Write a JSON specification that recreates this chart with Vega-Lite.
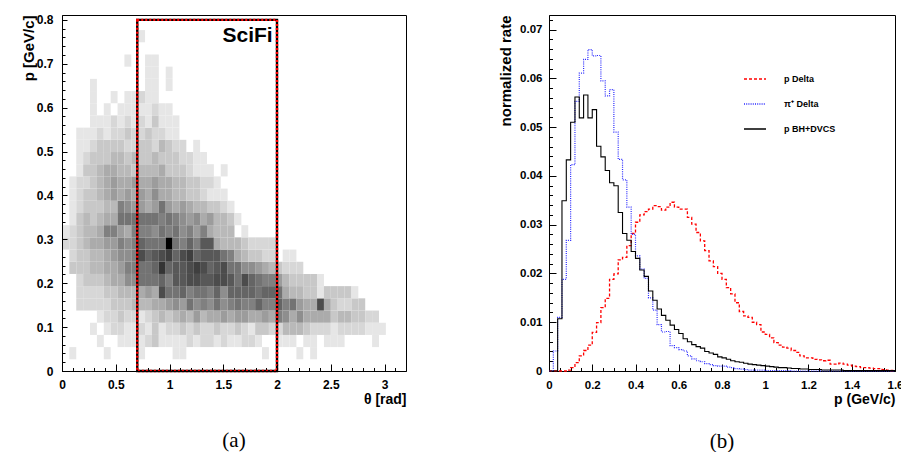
{
"$schema":"https://vega.github.io/schema/vega-lite/v6.json",
"background":"white",
"padding":{"left":20,"top":13,"right":0,"bottom":0},
"spacing":91,
"config":{
 "font":"Liberation Sans",
 "view":{"stroke":"#000","strokeWidth":1},
 "axis":{"grid":false,"labelFlush":false,"labelOverlap":false,"domainColor":"#000","tickColor":"#000","labelFont":"Liberation Sans","labelFontWeight":"bold","labelColor":"#000","titleFont":"Liberation Sans","titleFontWeight":"bold","titleColor":"#000","format":"~g"},
 "title":{"font":"Liberation Serif","fontWeight":"normal","fontSize":21,"color":"#000"}
},
"hconcat":[
 {
  "width":344,"height":356,
  "title":{"text":"(a)","orient":"bottom","anchor":"middle","offset":24},
  "resolve":{"axis":{"x":"independent","y":"independent"}},
  "layer":[
   {
    "data":{"values":[
{"t":0.064,"p":0.0278,"c":1},{"t":0.384,"p":0.0278,"c":1},{"t":0.704,"p":0.0278,"c":1},{"t":1.024,"p":0.0278,"c":1},{"t":1.088,"p":0.0278,"c":1},{"t":1.856,"p":0.0278,"c":1},{"t":2.176,"p":0.0278,"c":1},{"t":2.304,"p":0.0278,"c":1},
{"t":0.32,"p":0.0556,"c":1},{"t":0.512,"p":0.0556,"c":1},{"t":0.576,"p":0.0556,"c":1},{"t":0.64,"p":0.0556,"c":1},{"t":0.704,"p":0.0556,"c":1},{"t":0.768,"p":0.0556,"c":2},{"t":0.832,"p":0.0556,"c":3},{"t":0.896,"p":0.0556,"c":1},{"t":0.96,"p":0.0556,"c":1},{"t":1.024,"p":0.0556,"c":1},{"t":1.088,"p":0.0556,"c":1},{"t":1.152,"p":0.0556,"c":2},{"t":1.216,"p":0.0556,"c":1},{"t":1.28,"p":0.0556,"c":2},{"t":1.344,"p":0.0556,"c":2},{"t":1.408,"p":0.0556,"c":1},{"t":1.472,"p":0.0556,"c":2},{"t":1.536,"p":0.0556,"c":1},{"t":1.6,"p":0.0556,"c":1},{"t":1.664,"p":0.0556,"c":2},{"t":1.728,"p":0.0556,"c":2},{"t":1.792,"p":0.0556,"c":1},{"t":1.984,"p":0.0556,"c":1},{"t":2.048,"p":0.0556,"c":1},{"t":2.112,"p":0.0556,"c":1},{"t":2.24,"p":0.0556,"c":1},{"t":2.304,"p":0.0556,"c":1},{"t":2.432,"p":0.0556,"c":1},{"t":2.496,"p":0.0556,"c":1},{"t":2.56,"p":0.0556,"c":1},{"t":2.88,"p":0.0556,"c":1},
{"t":0.256,"p":0.0833,"c":1},{"t":0.384,"p":0.0833,"c":1},{"t":0.448,"p":0.0833,"c":2},{"t":0.512,"p":0.0833,"c":2},{"t":0.576,"p":0.0833,"c":1},{"t":0.64,"p":0.0833,"c":1},{"t":0.704,"p":0.0833,"c":2},{"t":0.768,"p":0.0833,"c":1},{"t":0.832,"p":0.0833,"c":3},{"t":0.896,"p":0.0833,"c":1},{"t":0.96,"p":0.0833,"c":2},{"t":1.024,"p":0.0833,"c":2},{"t":1.088,"p":0.0833,"c":3},{"t":1.152,"p":0.0833,"c":2},{"t":1.216,"p":0.0833,"c":3},{"t":1.28,"p":0.0833,"c":2},{"t":1.344,"p":0.0833,"c":2},{"t":1.408,"p":0.0833,"c":3},{"t":1.472,"p":0.0833,"c":2},{"t":1.536,"p":0.0833,"c":2},{"t":1.6,"p":0.0833,"c":3},{"t":1.664,"p":0.0833,"c":2},{"t":1.728,"p":0.0833,"c":1},{"t":1.792,"p":0.0833,"c":3},{"t":1.856,"p":0.0833,"c":3},{"t":1.92,"p":0.0833,"c":2},{"t":1.984,"p":0.0833,"c":2},{"t":2.048,"p":0.0833,"c":4},{"t":2.112,"p":0.0833,"c":4},{"t":2.176,"p":0.0833,"c":4},{"t":2.24,"p":0.0833,"c":3},{"t":2.304,"p":0.0833,"c":2},{"t":2.368,"p":0.0833,"c":2},{"t":2.432,"p":0.0833,"c":2},{"t":2.496,"p":0.0833,"c":1},{"t":2.56,"p":0.0833,"c":2},{"t":2.624,"p":0.0833,"c":2},{"t":2.688,"p":0.0833,"c":2},{"t":2.752,"p":0.0833,"c":2},{"t":2.816,"p":0.0833,"c":1},{"t":2.88,"p":0.0833,"c":1},{"t":2.944,"p":0.0833,"c":1},
{"t":0.32,"p":0.1111,"c":1},{"t":0.384,"p":0.1111,"c":2},{"t":0.448,"p":0.1111,"c":2},{"t":0.512,"p":0.1111,"c":3},{"t":0.576,"p":0.1111,"c":2},{"t":0.64,"p":0.1111,"c":2},{"t":0.704,"p":0.1111,"c":1},{"t":0.768,"p":0.1111,"c":2},{"t":0.832,"p":0.1111,"c":3},{"t":0.896,"p":0.1111,"c":4},{"t":0.96,"p":0.1111,"c":3},{"t":1.024,"p":0.1111,"c":4},{"t":1.088,"p":0.1111,"c":5},{"t":1.152,"p":0.1111,"c":4},{"t":1.216,"p":0.1111,"c":6},{"t":1.28,"p":0.1111,"c":4},{"t":1.344,"p":0.1111,"c":5},{"t":1.408,"p":0.1111,"c":5},{"t":1.472,"p":0.1111,"c":6},{"t":1.536,"p":0.1111,"c":5},{"t":1.6,"p":0.1111,"c":6},{"t":1.664,"p":0.1111,"c":6},{"t":1.728,"p":0.1111,"c":5},{"t":1.792,"p":0.1111,"c":5},{"t":1.856,"p":0.1111,"c":6},{"t":1.92,"p":0.1111,"c":5},{"t":1.984,"p":0.1111,"c":8},{"t":2.048,"p":0.1111,"c":7},{"t":2.112,"p":0.1111,"c":5},{"t":2.176,"p":0.1111,"c":7},{"t":2.24,"p":0.1111,"c":5},{"t":2.304,"p":0.1111,"c":5},{"t":2.368,"p":0.1111,"c":5},{"t":2.432,"p":0.1111,"c":5},{"t":2.496,"p":0.1111,"c":3},{"t":2.56,"p":0.1111,"c":4},{"t":2.624,"p":0.1111,"c":4},{"t":2.688,"p":0.1111,"c":3},{"t":2.752,"p":0.1111,"c":3},{"t":2.816,"p":0.1111,"c":2},{"t":2.88,"p":0.1111,"c":2},
{"t":0.128,"p":0.1389,"c":2},{"t":0.192,"p":0.1389,"c":2},{"t":0.256,"p":0.1389,"c":2},{"t":0.32,"p":0.1389,"c":2},{"t":0.384,"p":0.1389,"c":2},{"t":0.448,"p":0.1389,"c":3},{"t":0.512,"p":0.1389,"c":3},{"t":0.576,"p":0.1389,"c":3},{"t":0.64,"p":0.1389,"c":4},{"t":0.704,"p":0.1389,"c":4},{"t":0.768,"p":0.1389,"c":4},{"t":0.832,"p":0.1389,"c":5},{"t":0.896,"p":0.1389,"c":5},{"t":0.96,"p":0.1389,"c":6},{"t":1.024,"p":0.1389,"c":7},{"t":1.088,"p":0.1389,"c":6},{"t":1.152,"p":0.1389,"c":9},{"t":1.216,"p":0.1389,"c":7},{"t":1.28,"p":0.1389,"c":8},{"t":1.344,"p":0.1389,"c":7},{"t":1.408,"p":0.1389,"c":9},{"t":1.472,"p":0.1389,"c":7},{"t":1.536,"p":0.1389,"c":8},{"t":1.6,"p":0.1389,"c":9},{"t":1.664,"p":0.1389,"c":8},{"t":1.728,"p":0.1389,"c":8},{"t":1.792,"p":0.1389,"c":10},{"t":1.856,"p":0.1389,"c":8},{"t":1.92,"p":0.1389,"c":8},{"t":1.984,"p":0.1389,"c":10},{"t":2.048,"p":0.1389,"c":8},{"t":2.112,"p":0.1389,"c":9},{"t":2.176,"p":0.1389,"c":6},{"t":2.24,"p":0.1389,"c":5},{"t":2.304,"p":0.1389,"c":5},{"t":2.368,"p":0.1389,"c":12},{"t":2.432,"p":0.1389,"c":5},{"t":2.496,"p":0.1389,"c":3},{"t":2.56,"p":0.1389,"c":2},{"t":2.624,"p":0.1389,"c":2},{"t":2.688,"p":0.1389,"c":3},{"t":2.752,"p":0.1389,"c":3},
{"t":0.128,"p":0.1667,"c":2},{"t":0.192,"p":0.1667,"c":2},{"t":0.256,"p":0.1667,"c":2},{"t":0.32,"p":0.1667,"c":2},{"t":0.384,"p":0.1667,"c":3},{"t":0.448,"p":0.1667,"c":3},{"t":0.512,"p":0.1667,"c":4},{"t":0.576,"p":0.1667,"c":4},{"t":0.64,"p":0.1667,"c":4},{"t":0.704,"p":0.1667,"c":5},{"t":0.768,"p":0.1667,"c":6},{"t":0.832,"p":0.1667,"c":5},{"t":0.896,"p":0.1667,"c":12},{"t":0.96,"p":0.1667,"c":9},{"t":1.024,"p":0.1667,"c":9},{"t":1.088,"p":0.1667,"c":10},{"t":1.152,"p":0.1667,"c":8},{"t":1.216,"p":0.1667,"c":9},{"t":1.28,"p":0.1667,"c":9},{"t":1.344,"p":0.1667,"c":8},{"t":1.408,"p":0.1667,"c":10},{"t":1.472,"p":0.1667,"c":7},{"t":1.536,"p":0.1667,"c":10},{"t":1.6,"p":0.1667,"c":10},{"t":1.664,"p":0.1667,"c":10},{"t":1.728,"p":0.1667,"c":10},{"t":1.792,"p":0.1667,"c":9},{"t":1.856,"p":0.1667,"c":10},{"t":1.92,"p":0.1667,"c":10},{"t":1.984,"p":0.1667,"c":9},{"t":2.048,"p":0.1667,"c":5},{"t":2.112,"p":0.1667,"c":4},{"t":2.176,"p":0.1667,"c":4},{"t":2.24,"p":0.1667,"c":3},{"t":2.304,"p":0.1667,"c":3},{"t":2.368,"p":0.1667,"c":1},{"t":2.432,"p":0.1667,"c":3},{"t":2.496,"p":0.1667,"c":3},{"t":2.56,"p":0.1667,"c":3},{"t":2.624,"p":0.1667,"c":3},{"t":2.688,"p":0.1667,"c":1},
{"t":0.128,"p":0.1944,"c":2},{"t":0.192,"p":0.1944,"c":3},{"t":0.256,"p":0.1944,"c":3},{"t":0.32,"p":0.1944,"c":3},{"t":0.384,"p":0.1944,"c":4},{"t":0.448,"p":0.1944,"c":5},{"t":0.512,"p":0.1944,"c":5},{"t":0.576,"p":0.1944,"c":7},{"t":0.64,"p":0.1944,"c":7},{"t":0.704,"p":0.1944,"c":9},{"t":0.768,"p":0.1944,"c":9},{"t":0.832,"p":0.1944,"c":9},{"t":0.896,"p":0.1944,"c":10},{"t":0.96,"p":0.1944,"c":8},{"t":1.024,"p":0.1944,"c":11},{"t":1.088,"p":0.1944,"c":11},{"t":1.152,"p":0.1944,"c":12},{"t":1.216,"p":0.1944,"c":12},{"t":1.28,"p":0.1944,"c":11},{"t":1.344,"p":0.1944,"c":11},{"t":1.408,"p":0.1944,"c":12},{"t":1.472,"p":0.1944,"c":12},{"t":1.536,"p":0.1944,"c":11},{"t":1.6,"p":0.1944,"c":9},{"t":1.664,"p":0.1944,"c":12},{"t":1.728,"p":0.1944,"c":10},{"t":1.792,"p":0.1944,"c":9},{"t":1.856,"p":0.1944,"c":8},{"t":1.92,"p":0.1944,"c":8},{"t":1.984,"p":0.1944,"c":6},{"t":2.048,"p":0.1944,"c":4},{"t":2.112,"p":0.1944,"c":3},{"t":2.176,"p":0.1944,"c":3},{"t":2.24,"p":0.1944,"c":3},{"t":2.304,"p":0.1944,"c":3},{"t":2.368,"p":0.1944,"c":1},
{"t":0.064,"p":0.2222,"c":3},{"t":0.128,"p":0.2222,"c":3},{"t":0.192,"p":0.2222,"c":3},{"t":0.256,"p":0.2222,"c":4},{"t":0.32,"p":0.2222,"c":4},{"t":0.384,"p":0.2222,"c":5},{"t":0.448,"p":0.2222,"c":5},{"t":0.512,"p":0.2222,"c":6},{"t":0.576,"p":0.2222,"c":8},{"t":0.64,"p":0.2222,"c":8},{"t":0.704,"p":0.2222,"c":9},{"t":0.768,"p":0.2222,"c":9},{"t":0.832,"p":0.2222,"c":10},{"t":0.896,"p":0.2222,"c":14},{"t":0.96,"p":0.2222,"c":10},{"t":1.024,"p":0.2222,"c":11},{"t":1.088,"p":0.2222,"c":11},{"t":1.152,"p":0.2222,"c":12},{"t":1.216,"p":0.2222,"c":13},{"t":1.28,"p":0.2222,"c":12},{"t":1.344,"p":0.2222,"c":10},{"t":1.408,"p":0.2222,"c":11},{"t":1.472,"p":0.2222,"c":12},{"t":1.536,"p":0.2222,"c":9},{"t":1.6,"p":0.2222,"c":9},{"t":1.664,"p":0.2222,"c":7},{"t":1.728,"p":0.2222,"c":7},{"t":1.792,"p":0.2222,"c":6},{"t":1.856,"p":0.2222,"c":5},{"t":1.92,"p":0.2222,"c":4},{"t":1.984,"p":0.2222,"c":3},{"t":2.048,"p":0.2222,"c":2},{"t":2.112,"p":0.2222,"c":2},{"t":2.176,"p":0.2222,"c":2},
{"t":0.064,"p":0.25,"c":2},{"t":0.128,"p":0.25,"c":3},{"t":0.192,"p":0.25,"c":3},{"t":0.256,"p":0.25,"c":4},{"t":0.32,"p":0.25,"c":4},{"t":0.384,"p":0.25,"c":5},{"t":0.448,"p":0.25,"c":6},{"t":0.512,"p":0.25,"c":7},{"t":0.576,"p":0.25,"c":7},{"t":0.64,"p":0.25,"c":8},{"t":0.704,"p":0.25,"c":12},{"t":0.768,"p":0.25,"c":10},{"t":0.832,"p":0.25,"c":11},{"t":0.896,"p":0.25,"c":12},{"t":0.96,"p":0.25,"c":13},{"t":1.024,"p":0.25,"c":10},{"t":1.088,"p":0.25,"c":12},{"t":1.152,"p":0.25,"c":13},{"t":1.216,"p":0.25,"c":10},{"t":1.28,"p":0.25,"c":11},{"t":1.344,"p":0.25,"c":11},{"t":1.408,"p":0.25,"c":11},{"t":1.472,"p":0.25,"c":9},{"t":1.536,"p":0.25,"c":8},{"t":1.6,"p":0.25,"c":5},{"t":1.664,"p":0.25,"c":4},{"t":1.728,"p":0.25,"c":3},{"t":1.792,"p":0.25,"c":3},{"t":1.856,"p":0.25,"c":2},{"t":1.92,"p":0.25,"c":2},{"t":2.048,"p":0.25,"c":1},{"t":2.112,"p":0.25,"c":1},
{"t":0,"p":0.2778,"c":2},{"t":0.064,"p":0.2778,"c":2},{"t":0.128,"p":0.2778,"c":3},{"t":0.192,"p":0.2778,"c":4},{"t":0.256,"p":0.2778,"c":5},{"t":0.32,"p":0.2778,"c":5},{"t":0.384,"p":0.2778,"c":6},{"t":0.448,"p":0.2778,"c":6},{"t":0.512,"p":0.2778,"c":8},{"t":0.576,"p":0.2778,"c":7},{"t":0.64,"p":0.2778,"c":8},{"t":0.704,"p":0.2778,"c":10},{"t":0.768,"p":0.2778,"c":9},{"t":0.832,"p":0.2778,"c":9},{"t":0.896,"p":0.2778,"c":9},{"t":0.96,"p":0.2778,"c":18},{"t":1.024,"p":0.2778,"c":9},{"t":1.088,"p":0.2778,"c":8},{"t":1.152,"p":0.2778,"c":10},{"t":1.216,"p":0.2778,"c":8},{"t":1.28,"p":0.2778,"c":11},{"t":1.344,"p":0.2778,"c":11},{"t":1.408,"p":0.2778,"c":5},{"t":1.472,"p":0.2778,"c":4},{"t":1.536,"p":0.2778,"c":4},{"t":1.6,"p":0.2778,"c":4},{"t":1.664,"p":0.2778,"c":3},{"t":1.728,"p":0.2778,"c":2},{"t":1.792,"p":0.2778,"c":2},{"t":1.856,"p":0.2778,"c":2},{"t":1.92,"p":0.2778,"c":2},
{"t":0,"p":0.3056,"c":1},{"t":0.064,"p":0.3056,"c":2},{"t":0.128,"p":0.3056,"c":3},{"t":0.192,"p":0.3056,"c":4},{"t":0.256,"p":0.3056,"c":4},{"t":0.32,"p":0.3056,"c":5},{"t":0.384,"p":0.3056,"c":8},{"t":0.448,"p":0.3056,"c":8},{"t":0.512,"p":0.3056,"c":6},{"t":0.576,"p":0.3056,"c":5},{"t":0.64,"p":0.3056,"c":8},{"t":0.704,"p":0.3056,"c":8},{"t":0.768,"p":0.3056,"c":8},{"t":0.832,"p":0.3056,"c":7},{"t":0.896,"p":0.3056,"c":9},{"t":0.96,"p":0.3056,"c":8},{"t":1.024,"p":0.3056,"c":9},{"t":1.088,"p":0.3056,"c":7},{"t":1.152,"p":0.3056,"c":8},{"t":1.216,"p":0.3056,"c":6},{"t":1.28,"p":0.3056,"c":8},{"t":1.344,"p":0.3056,"c":5},{"t":1.408,"p":0.3056,"c":4},{"t":1.472,"p":0.3056,"c":4},{"t":1.536,"p":0.3056,"c":4},{"t":1.664,"p":0.3056,"c":1},
{"t":0.064,"p":0.3333,"c":1},{"t":0.128,"p":0.3333,"c":3},{"t":0.192,"p":0.3333,"c":4},{"t":0.256,"p":0.3333,"c":3},{"t":0.32,"p":0.3333,"c":4},{"t":0.384,"p":0.3333,"c":5},{"t":0.448,"p":0.3333,"c":5},{"t":0.512,"p":0.3333,"c":9},{"t":0.576,"p":0.3333,"c":9},{"t":0.64,"p":0.3333,"c":9},{"t":0.704,"p":0.3333,"c":9},{"t":0.768,"p":0.3333,"c":9},{"t":0.832,"p":0.3333,"c":9},{"t":0.896,"p":0.3333,"c":8},{"t":0.96,"p":0.3333,"c":9},{"t":1.024,"p":0.3333,"c":8},{"t":1.088,"p":0.3333,"c":7},{"t":1.152,"p":0.3333,"c":6},{"t":1.216,"p":0.3333,"c":7},{"t":1.28,"p":0.3333,"c":5},{"t":1.344,"p":0.3333,"c":6},{"t":1.408,"p":0.3333,"c":4},{"t":1.472,"p":0.3333,"c":4},{"t":1.536,"p":0.3333,"c":3},{"t":1.6,"p":0.3333,"c":1},
{"t":0.064,"p":0.3611,"c":1},{"t":0.128,"p":0.3611,"c":2},{"t":0.192,"p":0.3611,"c":3},{"t":0.256,"p":0.3611,"c":3},{"t":0.32,"p":0.3611,"c":3},{"t":0.384,"p":0.3611,"c":4},{"t":0.448,"p":0.3611,"c":4},{"t":0.512,"p":0.3611,"c":8},{"t":0.576,"p":0.3611,"c":7},{"t":0.64,"p":0.3611,"c":6},{"t":0.704,"p":0.3611,"c":6},{"t":0.768,"p":0.3611,"c":5},{"t":0.832,"p":0.3611,"c":6},{"t":0.896,"p":0.3611,"c":9},{"t":0.96,"p":0.3611,"c":6},{"t":1.024,"p":0.3611,"c":5},{"t":1.088,"p":0.3611,"c":6},{"t":1.152,"p":0.3611,"c":5},{"t":1.216,"p":0.3611,"c":4},{"t":1.28,"p":0.3611,"c":4},{"t":1.344,"p":0.3611,"c":3},{"t":1.408,"p":0.3611,"c":3},{"t":1.472,"p":0.3611,"c":2},{"t":1.536,"p":0.3611,"c":1},
{"t":0.064,"p":0.3889,"c":1},{"t":0.128,"p":0.3889,"c":2},{"t":0.192,"p":0.3889,"c":3},{"t":0.256,"p":0.3889,"c":3},{"t":0.32,"p":0.3889,"c":4},{"t":0.384,"p":0.3889,"c":5},{"t":0.448,"p":0.3889,"c":6},{"t":0.512,"p":0.3889,"c":5},{"t":0.576,"p":0.3889,"c":6},{"t":0.64,"p":0.3889,"c":5},{"t":0.704,"p":0.3889,"c":6},{"t":0.768,"p":0.3889,"c":5},{"t":0.832,"p":0.3889,"c":7},{"t":0.896,"p":0.3889,"c":5},{"t":0.96,"p":0.3889,"c":5},{"t":1.024,"p":0.3889,"c":4},{"t":1.088,"p":0.3889,"c":4},{"t":1.152,"p":0.3889,"c":3},{"t":1.216,"p":0.3889,"c":3},{"t":1.28,"p":0.3889,"c":2},{"t":1.344,"p":0.3889,"c":1},{"t":1.408,"p":0.3889,"c":1},{"t":1.472,"p":0.3889,"c":1},
{"t":0.064,"p":0.4167,"c":1},{"t":0.128,"p":0.4167,"c":2},{"t":0.192,"p":0.4167,"c":2},{"t":0.256,"p":0.4167,"c":3},{"t":0.32,"p":0.4167,"c":4},{"t":0.384,"p":0.4167,"c":5},{"t":0.448,"p":0.4167,"c":6},{"t":0.512,"p":0.4167,"c":5},{"t":0.576,"p":0.4167,"c":5},{"t":0.64,"p":0.4167,"c":6},{"t":0.704,"p":0.4167,"c":5},{"t":0.768,"p":0.4167,"c":5},{"t":0.832,"p":0.4167,"c":6},{"t":0.896,"p":0.4167,"c":5},{"t":0.96,"p":0.4167,"c":5},{"t":1.024,"p":0.4167,"c":4},{"t":1.088,"p":0.4167,"c":4},{"t":1.152,"p":0.4167,"c":3},{"t":1.216,"p":0.4167,"c":3},{"t":1.28,"p":0.4167,"c":2},{"t":1.344,"p":0.4167,"c":2},{"t":1.408,"p":0.4167,"c":1},
{"t":0.128,"p":0.4444,"c":1},{"t":0.192,"p":0.4444,"c":3},{"t":0.256,"p":0.4444,"c":3},{"t":0.32,"p":0.4444,"c":4},{"t":0.384,"p":0.4444,"c":5},{"t":0.448,"p":0.4444,"c":5},{"t":0.512,"p":0.4444,"c":4},{"t":0.576,"p":0.4444,"c":4},{"t":0.64,"p":0.4444,"c":3},{"t":0.704,"p":0.4444,"c":4},{"t":0.768,"p":0.4444,"c":4},{"t":0.832,"p":0.4444,"c":4},{"t":0.896,"p":0.4444,"c":5},{"t":0.96,"p":0.4444,"c":3},{"t":1.024,"p":0.4444,"c":3},{"t":1.088,"p":0.4444,"c":3},{"t":1.152,"p":0.4444,"c":2},{"t":1.216,"p":0.4444,"c":1},{"t":1.28,"p":0.4444,"c":1},{"t":1.344,"p":0.4444,"c":1},{"t":1.472,"p":0.4444,"c":1},
{"t":0.128,"p":0.4722,"c":1},{"t":0.192,"p":0.4722,"c":2},{"t":0.256,"p":0.4722,"c":3},{"t":0.32,"p":0.4722,"c":3},{"t":0.384,"p":0.4722,"c":3},{"t":0.448,"p":0.4722,"c":4},{"t":0.512,"p":0.4722,"c":4},{"t":0.576,"p":0.4722,"c":3},{"t":0.64,"p":0.4722,"c":4},{"t":0.704,"p":0.4722,"c":3},{"t":0.768,"p":0.4722,"c":3},{"t":0.832,"p":0.4722,"c":4},{"t":0.896,"p":0.4722,"c":3},{"t":0.96,"p":0.4722,"c":3},{"t":1.024,"p":0.4722,"c":3},{"t":1.088,"p":0.4722,"c":2},{"t":1.152,"p":0.4722,"c":2},{"t":1.216,"p":0.4722,"c":1},{"t":1.28,"p":0.4722,"c":1},
{"t":0.128,"p":0.5,"c":1},{"t":0.192,"p":0.5,"c":1},{"t":0.256,"p":0.5,"c":2},{"t":0.32,"p":0.5,"c":3},{"t":0.384,"p":0.5,"c":3},{"t":0.448,"p":0.5,"c":3},{"t":0.512,"p":0.5,"c":3},{"t":0.576,"p":0.5,"c":2},{"t":0.64,"p":0.5,"c":2},{"t":0.704,"p":0.5,"c":3},{"t":0.768,"p":0.5,"c":3},{"t":0.832,"p":0.5,"c":2},{"t":0.896,"p":0.5,"c":4},{"t":0.96,"p":0.5,"c":3},{"t":1.024,"p":0.5,"c":2},{"t":1.088,"p":0.5,"c":2},{"t":1.216,"p":0.5,"c":1},
{"t":0.128,"p":0.5278,"c":1},{"t":0.192,"p":0.5278,"c":1},{"t":0.256,"p":0.5278,"c":1},{"t":0.32,"p":0.5278,"c":2},{"t":0.384,"p":0.5278,"c":1},{"t":0.448,"p":0.5278,"c":2},{"t":0.512,"p":0.5278,"c":2},{"t":0.576,"p":0.5278,"c":3},{"t":0.64,"p":0.5278,"c":2},{"t":0.704,"p":0.5278,"c":2},{"t":0.768,"p":0.5278,"c":3},{"t":0.832,"p":0.5278,"c":2},{"t":0.896,"p":0.5278,"c":2},{"t":0.96,"p":0.5278,"c":1},{"t":1.024,"p":0.5278,"c":1},
{"t":0.256,"p":0.5556,"c":1},{"t":0.32,"p":0.5556,"c":1},{"t":0.384,"p":0.5556,"c":1},{"t":0.448,"p":0.5556,"c":2},{"t":0.512,"p":0.5556,"c":1},{"t":0.576,"p":0.5556,"c":2},{"t":0.64,"p":0.5556,"c":1},{"t":0.704,"p":0.5556,"c":2},{"t":0.768,"p":0.5556,"c":1},{"t":0.832,"p":0.5556,"c":3},{"t":0.896,"p":0.5556,"c":1},{"t":0.96,"p":0.5556,"c":1},{"t":1.024,"p":0.5556,"c":1},
{"t":0.256,"p":0.5833,"c":1},{"t":0.384,"p":0.5833,"c":1},{"t":0.512,"p":0.5833,"c":1},{"t":0.576,"p":0.5833,"c":1},{"t":0.64,"p":0.5833,"c":1},{"t":0.704,"p":0.5833,"c":1},{"t":0.768,"p":0.5833,"c":1},{"t":0.832,"p":0.5833,"c":2},{"t":0.896,"p":0.5833,"c":1},{"t":0.96,"p":0.5833,"c":1},
{"t":0.256,"p":0.6111,"c":1},{"t":0.448,"p":0.6111,"c":1},{"t":0.576,"p":0.6111,"c":1},{"t":0.64,"p":0.6111,"c":1},{"t":0.704,"p":0.6111,"c":2},{"t":0.768,"p":0.6111,"c":1},{"t":0.832,"p":0.6111,"c":1},
{"t":0.256,"p":0.6389,"c":1},{"t":0.768,"p":0.6389,"c":1},{"t":0.832,"p":0.6389,"c":1},{"t":0.96,"p":0.6389,"c":1},
{"t":0.768,"p":0.6667,"c":1},{"t":0.832,"p":0.6667,"c":1},{"t":0.96,"p":0.6667,"c":1},
{"t":0.576,"p":0.6944,"c":1},{"t":0.768,"p":0.6944,"c":1},{"t":0.832,"p":0.6944,"c":1},
{"t":0.704,"p":0.75,"c":1}
    ]},
    "mark":{"type":"rect"},
    "encoding":{
     "x":{"field":"t","type":"quantitative","bin":{"binned":true,"step":0.064},"scale":{"domain":[0,3.2],"nice":false,"zero":false},
       "axis":{"orient":"bottom","values":[0,0.5,1,1.5,2,2.5,3],"format":"~g","tickSize":-7,"labelPadding":15,"labelFontSize":12,"title":"θ [rad]","titleAnchor":"end","titleAlign":"right","titleFontSize":14,"titlePadding":2}},
     "y":{"field":"p","type":"quantitative","bin":{"binned":true,"step":0.027778},"scale":{"domain":[0,0.811],"nice":false,"zero":false},
       "axis":{"orient":"left","values":[0,0.1,0.2,0.3,0.4,0.5,0.6,0.7,0.8],"format":"~g","tickSize":-5,"labelPadding":14,"labelFontSize":12,"title":"p [GeV/c]","titleAnchor":"end","titleFontSize":15,"titlePadding":0}},
     "color":{"field":"c","type":"quantitative","scale":{"domain":[1,18],"range":["#e6e6e6","#000000"]},"legend":null}
    }
   },
   {
    "data":{"values":[{"x1":0.7,"x2":2.0,"y1":0,"y2":0.8}]},
    "mark":{"type":"rect","fill":"white","fillOpacity":0,"stroke":"#000","strokeWidth":2.4},
    "encoding":{
     "x":{"field":"x1","type":"quantitative","axis":{"orient":"bottom","values":[0,0.1,0.2,0.3,0.4,0.5,0.6,0.7,0.8,0.9,1,1.1,1.2,1.3,1.4,1.5,1.6,1.7,1.8,1.9,2,2.1,2.2,2.3,2.4,2.5,2.6,2.7,2.8,2.9,3,3.1],"labels":false,"domain":false,"tickSize":-3.5,"title":null}},
     "x2":{"field":"x2"},
     "y":{"field":"y1","type":"quantitative","axis":{"orient":"left","values":[0,0.02,0.04,0.06,0.08,0.1,0.12,0.14,0.16,0.18,0.2,0.22,0.24,0.26,0.28,0.3,0.32,0.34,0.36,0.38,0.4,0.42,0.44,0.46,0.48,0.5,0.52,0.54,0.56,0.58,0.6,0.62,0.64,0.66,0.68,0.7,0.72,0.74,0.76,0.78,0.8],"labels":false,"domain":false,"tickSize":-3,"title":null}},
     "y2":{"field":"y2"}
    }
   },
   {
    "data":{"values":[{"x1":0.7,"x2":2.0,"y1":0,"y2":0.8}]},
    "mark":{"type":"rect","fill":"white","fillOpacity":0,"stroke":"#ff0000","strokeWidth":2.4,"strokeDash":[2,2]},
    "encoding":{
     "x":{"field":"x1","type":"quantitative","axis":null},
     "x2":{"field":"x2"},
     "y":{"field":"y1","type":"quantitative","axis":null},
     "y2":{"field":"y2"}
    }
   },
   {
    "data":{"values":[{"t":1.96,"p":0.75,"label":"SciFi"}]},
    "mark":{"type":"text","align":"right","baseline":"alphabetic","fontSize":21,"fontWeight":"bold","font":"Liberation Sans","color":"#000"},
    "encoding":{
     "x":{"field":"t","type":"quantitative","axis":null},
     "y":{"field":"p","type":"quantitative","axis":null},
     "text":{"field":"label"}
    }
   }
  ]
 },
 {
  "width":346,"height":356,
  "title":{"text":"(b)","orient":"bottom","anchor":"middle","offset":24},
  "resolve":{"axis":{"x":"independent","y":"independent"}},
  "data":{"values":[
{"x":0,"p Delta":0,"π⁺ Delta":0,"p BH+DVCS":0},
{"x":0.02,"p Delta":0,"π⁺ Delta":0.0041,"p BH+DVCS":0},
{"x":0.04,"p Delta":0,"π⁺ Delta":0.011,"p BH+DVCS":0.0107},
{"x":0.06,"p Delta":0,"π⁺ Delta":0.0188,"p BH+DVCS":0.0349},
{"x":0.08,"p Delta":0.0002,"π⁺ Delta":0.0268,"p BH+DVCS":0.0433},
{"x":0.1,"p Delta":0.0007,"π⁺ Delta":0.0423,"p BH+DVCS":0.051},
{"x":0.12,"p Delta":0.0017,"π⁺ Delta":0.0553,"p BH+DVCS":0.0562},
{"x":0.14,"p Delta":0.0031,"π⁺ Delta":0.0611,"p BH+DVCS":0.0519},
{"x":0.16,"p Delta":0.0042,"π⁺ Delta":0.0639,"p BH+DVCS":0.0566},
{"x":0.18,"p Delta":0.0053,"π⁺ Delta":0.0659,"p BH+DVCS":0.0519},
{"x":0.2,"p Delta":0.0079,"π⁺ Delta":0.0646,"p BH+DVCS":0.0536},
{"x":0.22,"p Delta":0.0099,"π⁺ Delta":0.0647,"p BH+DVCS":0.0461},
{"x":0.24,"p Delta":0.013,"π⁺ Delta":0.0595,"p BH+DVCS":0.0439},
{"x":0.26,"p Delta":0.0149,"π⁺ Delta":0.0564,"p BH+DVCS":0.0411},
{"x":0.28,"p Delta":0.0188,"π⁺ Delta":0.0577,"p BH+DVCS":0.0386},
{"x":0.3,"p Delta":0.0199,"π⁺ Delta":0.049,"p BH+DVCS":0.038},
{"x":0.32,"p Delta":0.0228,"π⁺ Delta":0.0434,"p BH+DVCS":0.0325},
{"x":0.34,"p Delta":0.0233,"π⁺ Delta":0.0392,"p BH+DVCS":0.0282},
{"x":0.36,"p Delta":0.0257,"π⁺ Delta":0.0336,"p BH+DVCS":0.0268},
{"x":0.38,"p Delta":0.0282,"π⁺ Delta":0.028,"p BH+DVCS":0.0245},
{"x":0.4,"p Delta":0.0305,"π⁺ Delta":0.0236,"p BH+DVCS":0.0231},
{"x":0.42,"p Delta":0.032,"π⁺ Delta":0.0209,"p BH+DVCS":0.0207},
{"x":0.44,"p Delta":0.0327,"π⁺ Delta":0.019,"p BH+DVCS":0.0194},
{"x":0.46,"p Delta":0.0332,"π⁺ Delta":0.015,"p BH+DVCS":0.0164},
{"x":0.48,"p Delta":0.0339,"π⁺ Delta":0.0125,"p BH+DVCS":0.0145},
{"x":0.5,"p Delta":0.0337,"π⁺ Delta":0.0095,"p BH+DVCS":0.0127},
{"x":0.52,"p Delta":0.033,"π⁺ Delta":0.008,"p BH+DVCS":0.0114},
{"x":0.54,"p Delta":0.0336,"π⁺ Delta":0.0081,"p BH+DVCS":0.0104},
{"x":0.56,"p Delta":0.0346,"π⁺ Delta":0.0052,"p BH+DVCS":0.0094},
{"x":0.58,"p Delta":0.0336,"π⁺ Delta":0.0048,"p BH+DVCS":0.0085},
{"x":0.6,"p Delta":0.0332,"π⁺ Delta":0.0044,"p BH+DVCS":0.0077},
{"x":0.62,"p Delta":0.0332,"π⁺ Delta":0.0041,"p BH+DVCS":0.0066},
{"x":0.64,"p Delta":0.0315,"π⁺ Delta":0.0031,"p BH+DVCS":0.006},
{"x":0.66,"p Delta":0.0301,"π⁺ Delta":0.0025,"p BH+DVCS":0.0054},
{"x":0.68,"p Delta":0.0284,"π⁺ Delta":0.0021,"p BH+DVCS":0.005},
{"x":0.7,"p Delta":0.0267,"π⁺ Delta":0.0019,"p BH+DVCS":0.0047},
{"x":0.72,"p Delta":0.0247,"π⁺ Delta":0.0015,"p BH+DVCS":0.004},
{"x":0.74,"p Delta":0.0226,"π⁺ Delta":0.0013,"p BH+DVCS":0.0037},
{"x":0.76,"p Delta":0.0214,"π⁺ Delta":0.0011,"p BH+DVCS":0.0034},
{"x":0.78,"p Delta":0.02,"π⁺ Delta":0.001,"p BH+DVCS":0.0029},
{"x":0.8,"p Delta":0.0188,"π⁺ Delta":0.001,"p BH+DVCS":0.0027},
{"x":0.82,"p Delta":0.0171,"π⁺ Delta":0.0008,"p BH+DVCS":0.0024},
{"x":0.84,"p Delta":0.0158,"π⁺ Delta":0.0007,"p BH+DVCS":0.0021},
{"x":0.86,"p Delta":0.014,"π⁺ Delta":0.0005,"p BH+DVCS":0.0019},
{"x":0.88,"p Delta":0.0122,"π⁺ Delta":0.0004,"p BH+DVCS":0.0018},
{"x":0.9,"p Delta":0.0113,"π⁺ Delta":0.0003,"p BH+DVCS":0.0016},
{"x":0.92,"p Delta":0.011,"π⁺ Delta":0.0002,"p BH+DVCS":0.0014},
{"x":0.94,"p Delta":0.01,"π⁺ Delta":0.0002,"p BH+DVCS":0.0013},
{"x":0.96,"p Delta":0.0095,"π⁺ Delta":0.0002,"p BH+DVCS":0.0012},
{"x":0.98,"p Delta":0.008,"π⁺ Delta":0.0002,"p BH+DVCS":0.0011},
{"x":1,"p Delta":0.0075,"π⁺ Delta":0.0001,"p BH+DVCS":0.001},
{"x":1.02,"p Delta":0.0068,"π⁺ Delta":0.0001,"p BH+DVCS":0.0009},
{"x":1.04,"p Delta":0.0058,"π⁺ Delta":0.0001,"p BH+DVCS":0.0008},
{"x":1.06,"p Delta":0.0053,"π⁺ Delta":0.0001,"p BH+DVCS":0.0007},
{"x":1.08,"p Delta":0.0049,"π⁺ Delta":0.0001,"p BH+DVCS":0.0007},
{"x":1.1,"p Delta":0.0047,"π⁺ Delta":0.0001,"p BH+DVCS":0.0006},
{"x":1.12,"p Delta":0.0042,"π⁺ Delta":0,"p BH+DVCS":0.0005},
{"x":1.14,"p Delta":0.0038,"π⁺ Delta":0,"p BH+DVCS":0.0005},
{"x":1.16,"p Delta":0.0031,"π⁺ Delta":0,"p BH+DVCS":0.0004},
{"x":1.18,"p Delta":0.0027,"π⁺ Delta":0,"p BH+DVCS":0.0004},
{"x":1.2,"p Delta":0.0027,"π⁺ Delta":0,"p BH+DVCS":0.0003},
{"x":1.22,"p Delta":0.0024,"π⁺ Delta":0,"p BH+DVCS":0.0003},
{"x":1.24,"p Delta":0.0023,"π⁺ Delta":0,"p BH+DVCS":0.0003},
{"x":1.26,"p Delta":0.0021,"π⁺ Delta":0,"p BH+DVCS":0.0002},
{"x":1.28,"p Delta":0.0022,"π⁺ Delta":0,"p BH+DVCS":0.0002},
{"x":1.3,"p Delta":0.0014,"π⁺ Delta":0,"p BH+DVCS":0.0002},
{"x":1.32,"p Delta":0.0014,"π⁺ Delta":0,"p BH+DVCS":0.0002},
{"x":1.34,"p Delta":0.0016,"π⁺ Delta":0,"p BH+DVCS":0.0002},
{"x":1.36,"p Delta":0.0014,"π⁺ Delta":0,"p BH+DVCS":0.0001},
{"x":1.38,"p Delta":0.0012,"π⁺ Delta":0,"p BH+DVCS":0.0001},
{"x":1.4,"p Delta":0.001,"π⁺ Delta":0,"p BH+DVCS":0.0001},
{"x":1.42,"p Delta":0.0009,"π⁺ Delta":0,"p BH+DVCS":0.0001},
{"x":1.44,"p Delta":0.0007,"π⁺ Delta":0,"p BH+DVCS":0.0001},
{"x":1.46,"p Delta":0.0007,"π⁺ Delta":0,"p BH+DVCS":0.0001},
{"x":1.48,"p Delta":0.0006,"π⁺ Delta":0,"p BH+DVCS":0.0001},
{"x":1.5,"p Delta":0.0005,"π⁺ Delta":0,"p BH+DVCS":0.0001},
{"x":1.52,"p Delta":0.0005,"π⁺ Delta":0,"p BH+DVCS":0.0001},
{"x":1.54,"p Delta":0.0003,"π⁺ Delta":0,"p BH+DVCS":0.0001},
{"x":1.56,"p Delta":0.0002,"π⁺ Delta":0,"p BH+DVCS":0.0001},
{"x":1.58,"p Delta":0.0001,"π⁺ Delta":0,"p BH+DVCS":0.0001},
{"x":1.6,"p Delta":0.0001,"π⁺ Delta":0,"p BH+DVCS":0.0001}
  ]},
  "transform":[{"fold":["p Delta","π⁺ Delta","p BH+DVCS"],"as":["s","y"]}],
  "layer":[
   {
    "mark":{"type":"line","interpolate":"step-after"},
    "encoding":{
     "x":{"field":"x","type":"quantitative","scale":{"domain":[0,1.6],"nice":false,"zero":false},
       "axis":{"orient":"bottom","values":[0,0.2,0.4,0.6,0.8,1,1.2,1.4,1.6],"format":"~g","tickSize":-7,"labelPadding":15,"labelFontSize":11.5,"title":"p (GeV/c)","titleAnchor":"end","titleAlign":"right","titleFontSize":14,"titlePadding":2}},
     "y":{"field":"y","type":"quantitative","scale":{"domain":[0,0.073],"nice":false,"zero":false},
       "axis":{"orient":"left","values":[0,0.01,0.02,0.03,0.04,0.05,0.06,0.07],"format":"~g","tickSize":-7,"labelPadding":14,"labelFontSize":11.5,"title":"normalized rate","titleAnchor":"end","titleFontSize":15,"titlePadding":6}},
     "color":{"field":"s","type":"nominal","scale":{"domain":["p Delta","π⁺ Delta","p BH+DVCS"],"range":["#ff0000","#2a2aff","#000000"]},
       "legend":{"title":null,"orient":"none","legendX":194,"legendY":52,"symbolType":"stroke","symbolSize":484,"symbolStrokeWidth":1.5,"labelFontSize":9,"labelFontWeight":"bold","labelFont":"Liberation Sans","labelColor":"#000","labelOffset":17,"rowPadding":8,"padding":0,
         "encode":{"symbols":{"update":{"strokeDash":{"signal":"datum.value === 'p Delta' ? [3,2] : datum.value === 'π⁺ Delta' ? [1,1.2] : [1,0]"}}}}}},
     "strokeDash":{"field":"s","type":"nominal","scale":{"domain":["p Delta","π⁺ Delta","p BH+DVCS"],"range":[[3,2],[1,1.2],[1,0]]},"legend":null},
     "strokeWidth":{"field":"s","type":"nominal","scale":{"domain":["p Delta","π⁺ Delta","p BH+DVCS"],"range":[1.3,1.1,1.4]},"legend":null}
    }
   },
   {
    "mark":{"type":"point","opacity":0},
    "encoding":{
     "x":{"field":"x","type":"quantitative","axis":{"orient":"bottom","values":[0,0.05,0.1,0.15,0.2,0.25,0.3,0.35,0.4,0.45,0.5,0.55,0.6,0.65,0.7,0.75,0.8,0.85,0.9,0.95,1,1.05,1.1,1.15,1.2,1.25,1.3,1.35,1.4,1.45,1.5,1.55],"labels":false,"domain":false,"tickSize":-3.5,"title":null}},
     "y":{"field":"y","type":"quantitative","axis":{"orient":"left","values":[0,0.002,0.004,0.006,0.008,0.01,0.012,0.014,0.016,0.018,0.02,0.022,0.024,0.026,0.028,0.03,0.032,0.034,0.036,0.038,0.04,0.042,0.044,0.046,0.048,0.05,0.052,0.054,0.056,0.058,0.06,0.062,0.064,0.066,0.068,0.07,0.072],"labels":false,"domain":false,"tickSize":-3.5,"title":null}}
    }
   }
  ]
 }
]
}
